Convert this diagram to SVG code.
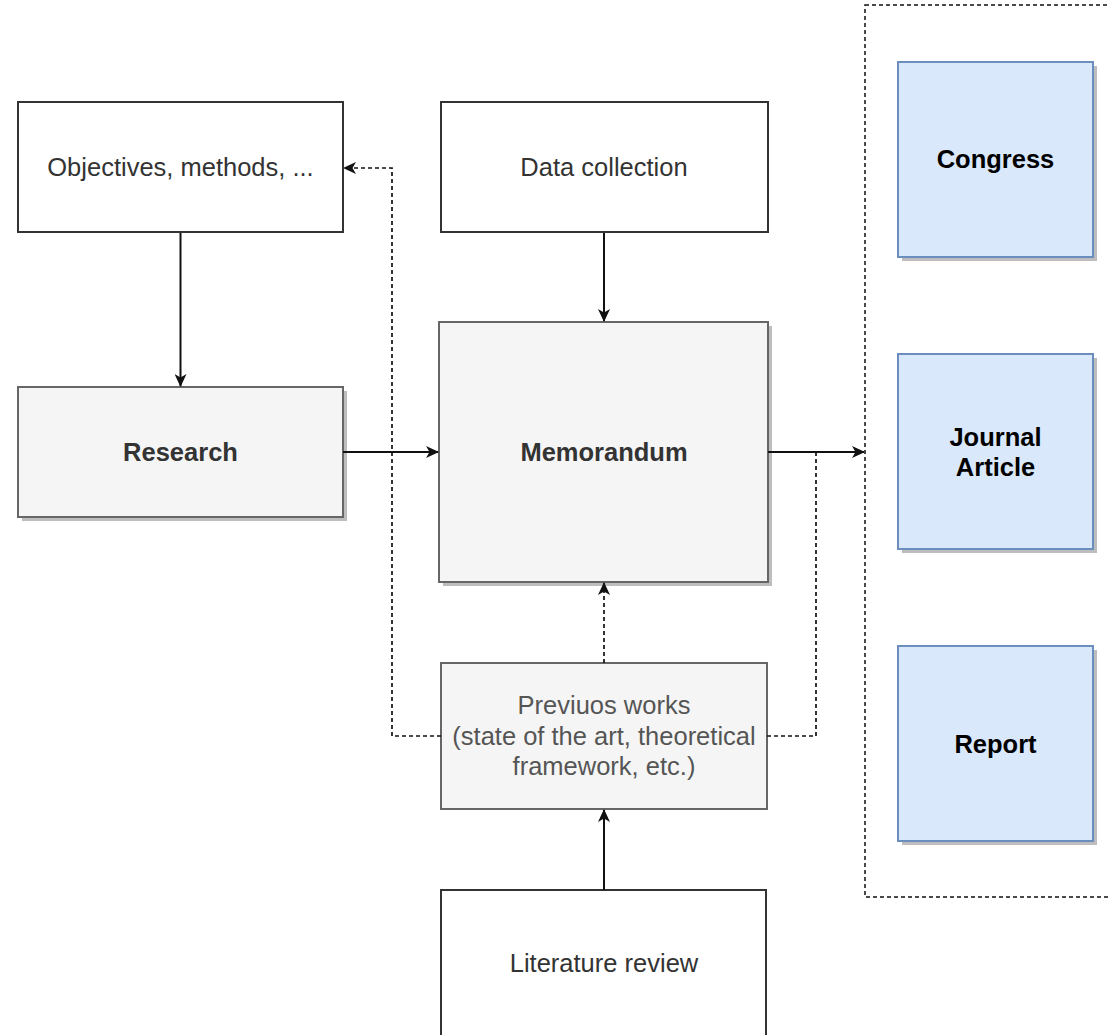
<svg xmlns="http://www.w3.org/2000/svg" width="1110" height="1035" viewBox="0 0 1110 1035">
<style>
.t{font-family:"Liberation Sans",Arial,sans-serif;font-size:25.5px;text-anchor:middle}
.n{fill:#333}
.b{font-weight:bold}
.plain{fill:#fff;stroke:#333;stroke-width:2}
.grey{fill:#f5f5f5;stroke:#666;stroke-width:2}
.blue{fill:#dae8fc;stroke:#6c8ebf;stroke-width:2}
.sh{fill:#bdbdbd}
.e{fill:none;stroke:#111;stroke-width:2}
.d{stroke-dasharray:4 3;stroke-width:1.7}
</style>
<defs>
<marker id="ar" viewBox="0 0 13 12" refX="12" refY="6" markerWidth="13" markerHeight="12" markerUnits="userSpaceOnUse" orient="auto">
<path d="M0,0 L13,6 L0,12 L3.5,6 Z" fill="#111"/>
</marker>
</defs>
<rect id="container" x="865" y="5" width="260" height="892" fill="none" stroke="#111" stroke-width="1.5" stroke-dasharray="4 3"/>
<g id="objectives">
<rect class="plain" x="18" y="102" width="325" height="130"/>
<text class="t n" x="180.5" y="176">Objectives, methods, ...</text>
</g>
<g id="data-collection">
<rect class="plain" x="441" y="102" width="327" height="130"/>
<text class="t n" x="604" y="176">Data collection</text>
</g>
<g id="research">
<rect class="sh" x="22" y="391" width="325" height="130"/>
<rect class="grey" x="18" y="387" width="325" height="130"/>
<text class="t n b" x="180.5" y="461">Research</text>
</g>
<g id="memorandum">
<rect class="sh" x="443" y="326" width="329" height="260"/>
<rect class="grey" x="439" y="322" width="329" height="260"/>
<text class="t n b" x="604" y="461">Memorandum</text>
</g>
<g id="previous-works">
<rect class="grey" x="441" y="663" width="326" height="146"/>
<text class="t" fill="#555" x="604" y="714">Previuos works</text>
<text class="t" fill="#555" x="604" y="745">(state of the art, theoretical</text>
<text class="t" fill="#555" x="604" y="775">framework, etc.)</text>
</g>
<g id="literature-review">
<rect class="plain" x="441" y="890" width="325" height="150"/>
<text class="t n" x="604" y="972">Literature review</text>
</g>
<g id="congress">
<rect class="sh" x="902" y="66" width="195" height="195"/>
<rect class="blue" x="898" y="62" width="195" height="195"/>
<text class="t b" fill="#000" x="995.5" y="168">Congress</text>
</g>
<g id="journal-article">
<rect class="sh" x="902" y="358" width="195" height="195"/>
<rect class="blue" x="898" y="354" width="195" height="195"/>
<text class="t b" fill="#000" x="995.5" y="446">Journal</text>
<text class="t b" fill="#000" x="995.5" y="476">Article</text>
</g>
<g id="report">
<rect class="sh" x="902" y="650" width="195" height="195"/>
<rect class="blue" x="898" y="646" width="195" height="195"/>
<text class="t b" fill="#000" x="995.5" y="753">Report</text>
</g>
<g id="connectors">
<path class="e" d="M180.5,233 V386" marker-end="url(#ar)"/>
<path class="e" d="M604,233 V321" marker-end="url(#ar)"/>
<path class="e" d="M343,452 H438" marker-end="url(#ar)"/>
<path class="e" d="M768,452 H864" marker-end="url(#ar)"/>
<path class="e d" d="M604,663 V583" marker-end="url(#ar)"/>
<path class="e" d="M604,890 V810" marker-end="url(#ar)"/>
<path class="e d" d="M441,736 H392 V168 H344" marker-end="url(#ar)"/>
<path class="e d" d="M767,736 H816 V452"/>
</g>
</svg>
